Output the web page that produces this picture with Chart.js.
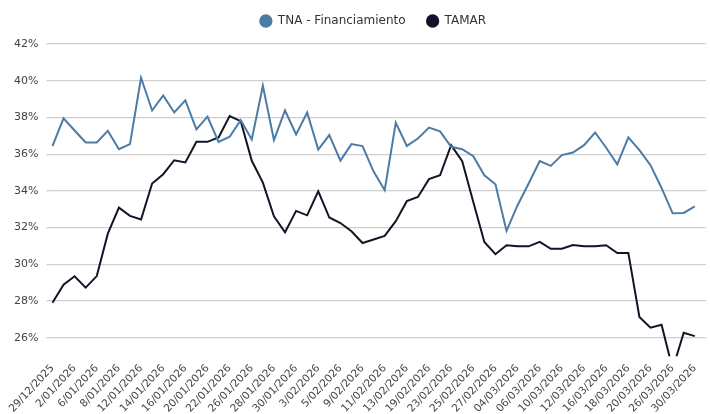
<!DOCTYPE html>
<html>
<head>
<meta charset="utf-8">
<script src="https://cdn.jsdelivr.net/npm/chart.js@4/dist/chart.umd.min.js"></script>
<style>
  html, body { margin: 0; padding: 0; background: #fff; }
</style>
</head>
<body>
<canvas id="tasasChart" width="710" height="414"></canvas>
<script>
const fechas = [
  '29/12/2025', '30/12/2025', '2/01/2026', '5/01/2026', '6/01/2026', '7/01/2026', '8/01/2026', '9/01/2026',
  '12/01/2026', '13/01/2026', '14/01/2026', '15/01/2026', '16/01/2026', '19/01/2026', '20/01/2026', '21/01/2026',
  '22/01/2026', '23/01/2026', '26/01/2026', '27/01/2026', '28/01/2026', '29/01/2026', '30/01/2026', '2/02/2026',
  '3/02/2026', '4/02/2026', '5/02/2026', '6/02/2026', '9/02/2026', '10/02/2026', '11/02/2026', '12/02/2026',
  '13/02/2026', '18/02/2026', '19/02/2026', '20/02/2026', '23/02/2026', '24/02/2026', '25/02/2026', '26/02/2026',
  '27/02/2026', '03/03/2026', '04/03/2026', '05/03/2026', '06/03/2026', '09/03/2026', '10/03/2026', '11/03/2026',
  '12/03/2026', '13/03/2026', '16/03/2026', '17/03/2026', '18/03/2026', '19/03/2026', '20/03/2026', '25/03/2026',
  '26/03/2026', '27/03/2026', '30/03/2026', '31/03/2026'
];

const tnaFinanciamiento = [
  36.44, 37.95, 37.29, 36.64, 36.64, 37.27, 36.27, 36.55, 40.16, 38.38,
  39.20, 38.27, 38.93, 37.35, 38.04, 36.67, 36.95, 37.85, 36.80, 39.73,
  36.76, 38.38, 37.07, 38.27, 36.25, 37.04, 35.65, 36.55, 36.44, 35.05,
  34.04, 37.71, 36.45, 36.85, 37.45, 37.24, 36.40, 36.27, 35.89, 34.85,
  34.36, 31.82, 33.22, 34.40, 35.62, 35.36, 35.95, 36.09, 36.49, 37.18,
  36.35, 35.45, 36.91, 36.22, 35.40, 34.16, 32.78, 32.80, 33.16, null
];

const tamar = [
  27.91, 28.89, 29.35, 28.73, 29.36, 31.67, 33.09, 32.64, 32.44, 34.40,
  34.91, 35.67, 35.55, 36.67, 36.67, 36.91, 38.07, 37.80, 35.64, 34.45,
  32.62, 31.75, 32.91, 32.67, 33.98, 32.55, 32.25, 31.80, 31.16, 31.35,
  31.55, 32.35, 33.44, 33.67, 34.64, 34.85, 36.49, 35.62, 33.40, 31.22,
  30.55, 31.04, 30.98, 30.98, 31.22, 30.85, 30.85, 31.05, 30.98, 30.98,
  31.04, 30.62, 30.62, 27.13, 26.55, 26.71, 24.30, 26.27, 26.09, null
];

const fuente = "'DejaVu Sans', sans-serif";

// a bit more room under the legend, and the legend sits slightly right of centre
const ajusteLeyenda = {
  id: 'ajusteLeyenda',
  afterInit(chart) {
    const legend = chart.legend;
    const fit = legend.fit;
    legend.fit = function () {
      fit.call(this);
      this.height += 7;
    };
    const draw = legend.draw;
    legend.draw = function () {
      this.ctx.save();
      this.ctx.translate(14, 0);
      draw.call(this);
      this.ctx.restore();
    };
  }
};

const ctx = document.getElementById('tasasChart').getContext('2d');
const tasasChart = new Chart(ctx, {
  type: 'line',
  data: {
    labels: fechas,
    datasets: [{
      label: 'TNA - Financiamiento',
      data: tnaFinanciamiento,
      borderColor: 'rgb(76, 123, 166)',
      backgroundColor: 'rgb(76, 123, 166)',
      borderWidth: 2,
      pointRadius: 0,
      tension: 0
    }, {
      label: 'TAMAR',
      data: tamar,
      borderColor: 'rgb(18, 21, 40)',
      backgroundColor: 'rgb(18, 21, 40)',
      borderWidth: 2,
      pointRadius: 0,
      tension: 0
    }]
  },
  plugins: [ajusteLeyenda],
  options: {
    responsive: false,
    animation: false,
    layout: {
      padding: { left: 6, right: -2, top: -6, bottom: -7 }
    },
    plugins: {
      legend: {
        position: 'top',
        labels: {
          usePointStyle: true,
          pointStyle: 'circle',
          boxWidth: 12,
          boxHeight: 8,
          color: '#333',
          font: { family: fuente, size: 12 },
          padding: 21
        }
      },
      tooltip: { enabled: false }
    },
    scales: {
      x: {
        grid: { display: false, drawTicks: false },
        border: { display: false },
        ticks: {
          color: '#444',
          font: { family: fuente, size: 10.5 },
          minRotation: 47,
          maxRotation: 47,
          autoSkip: false,
          padding: 6,
          // one label out of two, like the original
          callback: (v, i) => (i % 2 === 0 ? fechas[i] : null)
        }
      },
      y: {
        min: 25,
        max: 42,
        border: { display: false },
        grid: {
          color: '#cfcfcf',
          lineWidth: 1.3,
          tickLength: 6
        },
        ticks: {
          stepSize: 2,
          includeBounds: false,
          padding: 8,
          color: '#444',
          font: { family: fuente, size: 11 },
          callback: (v) => v + '%'
        }
      }
    }
  }
});
</script>
</body>
</html>
